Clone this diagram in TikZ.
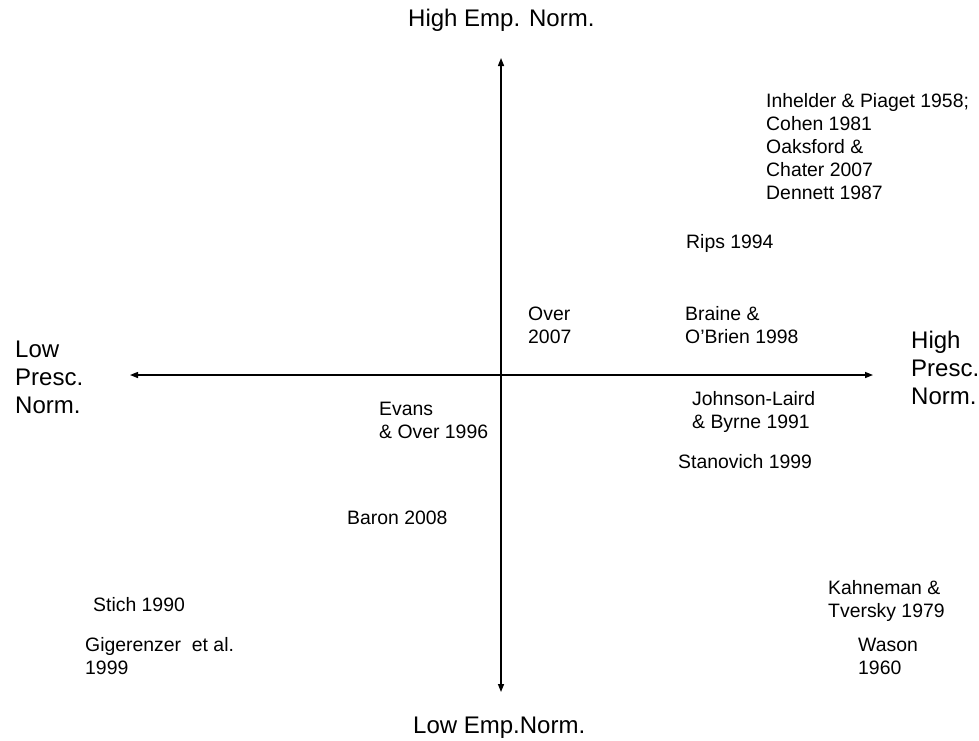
\documentclass[tikz,border=0pt]{standalone}
\usepackage{fontspec}
\setmainfont{Liberation Sans}
\usetikzlibrary{arrows.meta}
\tikzset{
  lbl/.style={inner sep=0pt, anchor=west, align=left, font=\fontsize{19.4}{23}\selectfont},
  axlbl/.style={inner sep=0pt, anchor=west, align=left, font=\fontsize{24}{28}\selectfont},
  axis/.style={line width=1.4pt, {Triangle[length=8pt,width=6pt]}-{Triangle[length=8pt,width=6pt]}}
}
\begin{document}
\begin{tikzpicture}[x=1pt,y=-1pt]
\useasboundingbox (0,0) rectangle (979,740);
\fill[white] (0,0) rectangle (979,740);
% axes
\coordinate (top) at (501,58);
\coordinate (bot) at (501,692);
\coordinate (lft) at (130,375);
\coordinate (rgt) at (873,375);
\draw[axis] (bot) -- (top);
\draw[axis] (lft) -- (rgt);
% axis labels
\node[axlbl] (hemp) at (408,20) {High Emp. Norm.};
\node[axlbl] (lemp) at (413,728) {Low Emp.Norm.};
\node[axlbl] (lpre) at (15,377) {Low\\Presc.\\Norm.};
\node[axlbl] (hpre) at (911,368) {High\\Presc.\\Norm.};
% entries
\node[lbl] (inh) at (766,146.5) {Inhelder \& Piaget 1958;\\Cohen 1981\\Oaksford \&\\Chater 2007\\Dennett 1987};
\node[lbl] (rips) at (686,243) {Rips 1994};
\node[lbl] (over) at (528,325) {Over\\2007};
\node[lbl] (brai) at (685,325) {Braine \&\\O’Brien 1998};
\node[lbl] (john) at (692,411.5) {Johnson-Laird\\\& Byrne 1991};
\node[lbl] (stan) at (678,462) {Stanovich 1999};
\node[lbl] (evan) at (379,420) {Evans\\\& Over 1996};
\node[lbl] (baro) at (347,518) {Baron 2008};
\node[lbl] (stic) at (93,605) {Stich 1990};
\node[lbl] (gige) at (85,656) {Gigerenzer\ \ et al.\\1999};
\node[lbl] (kahn) at (828,601) {Kahneman \&\\Tversky 1979};
\node[lbl] (waso) at (858,656) {Wason\\1960};
\end{tikzpicture}
\end{document}
